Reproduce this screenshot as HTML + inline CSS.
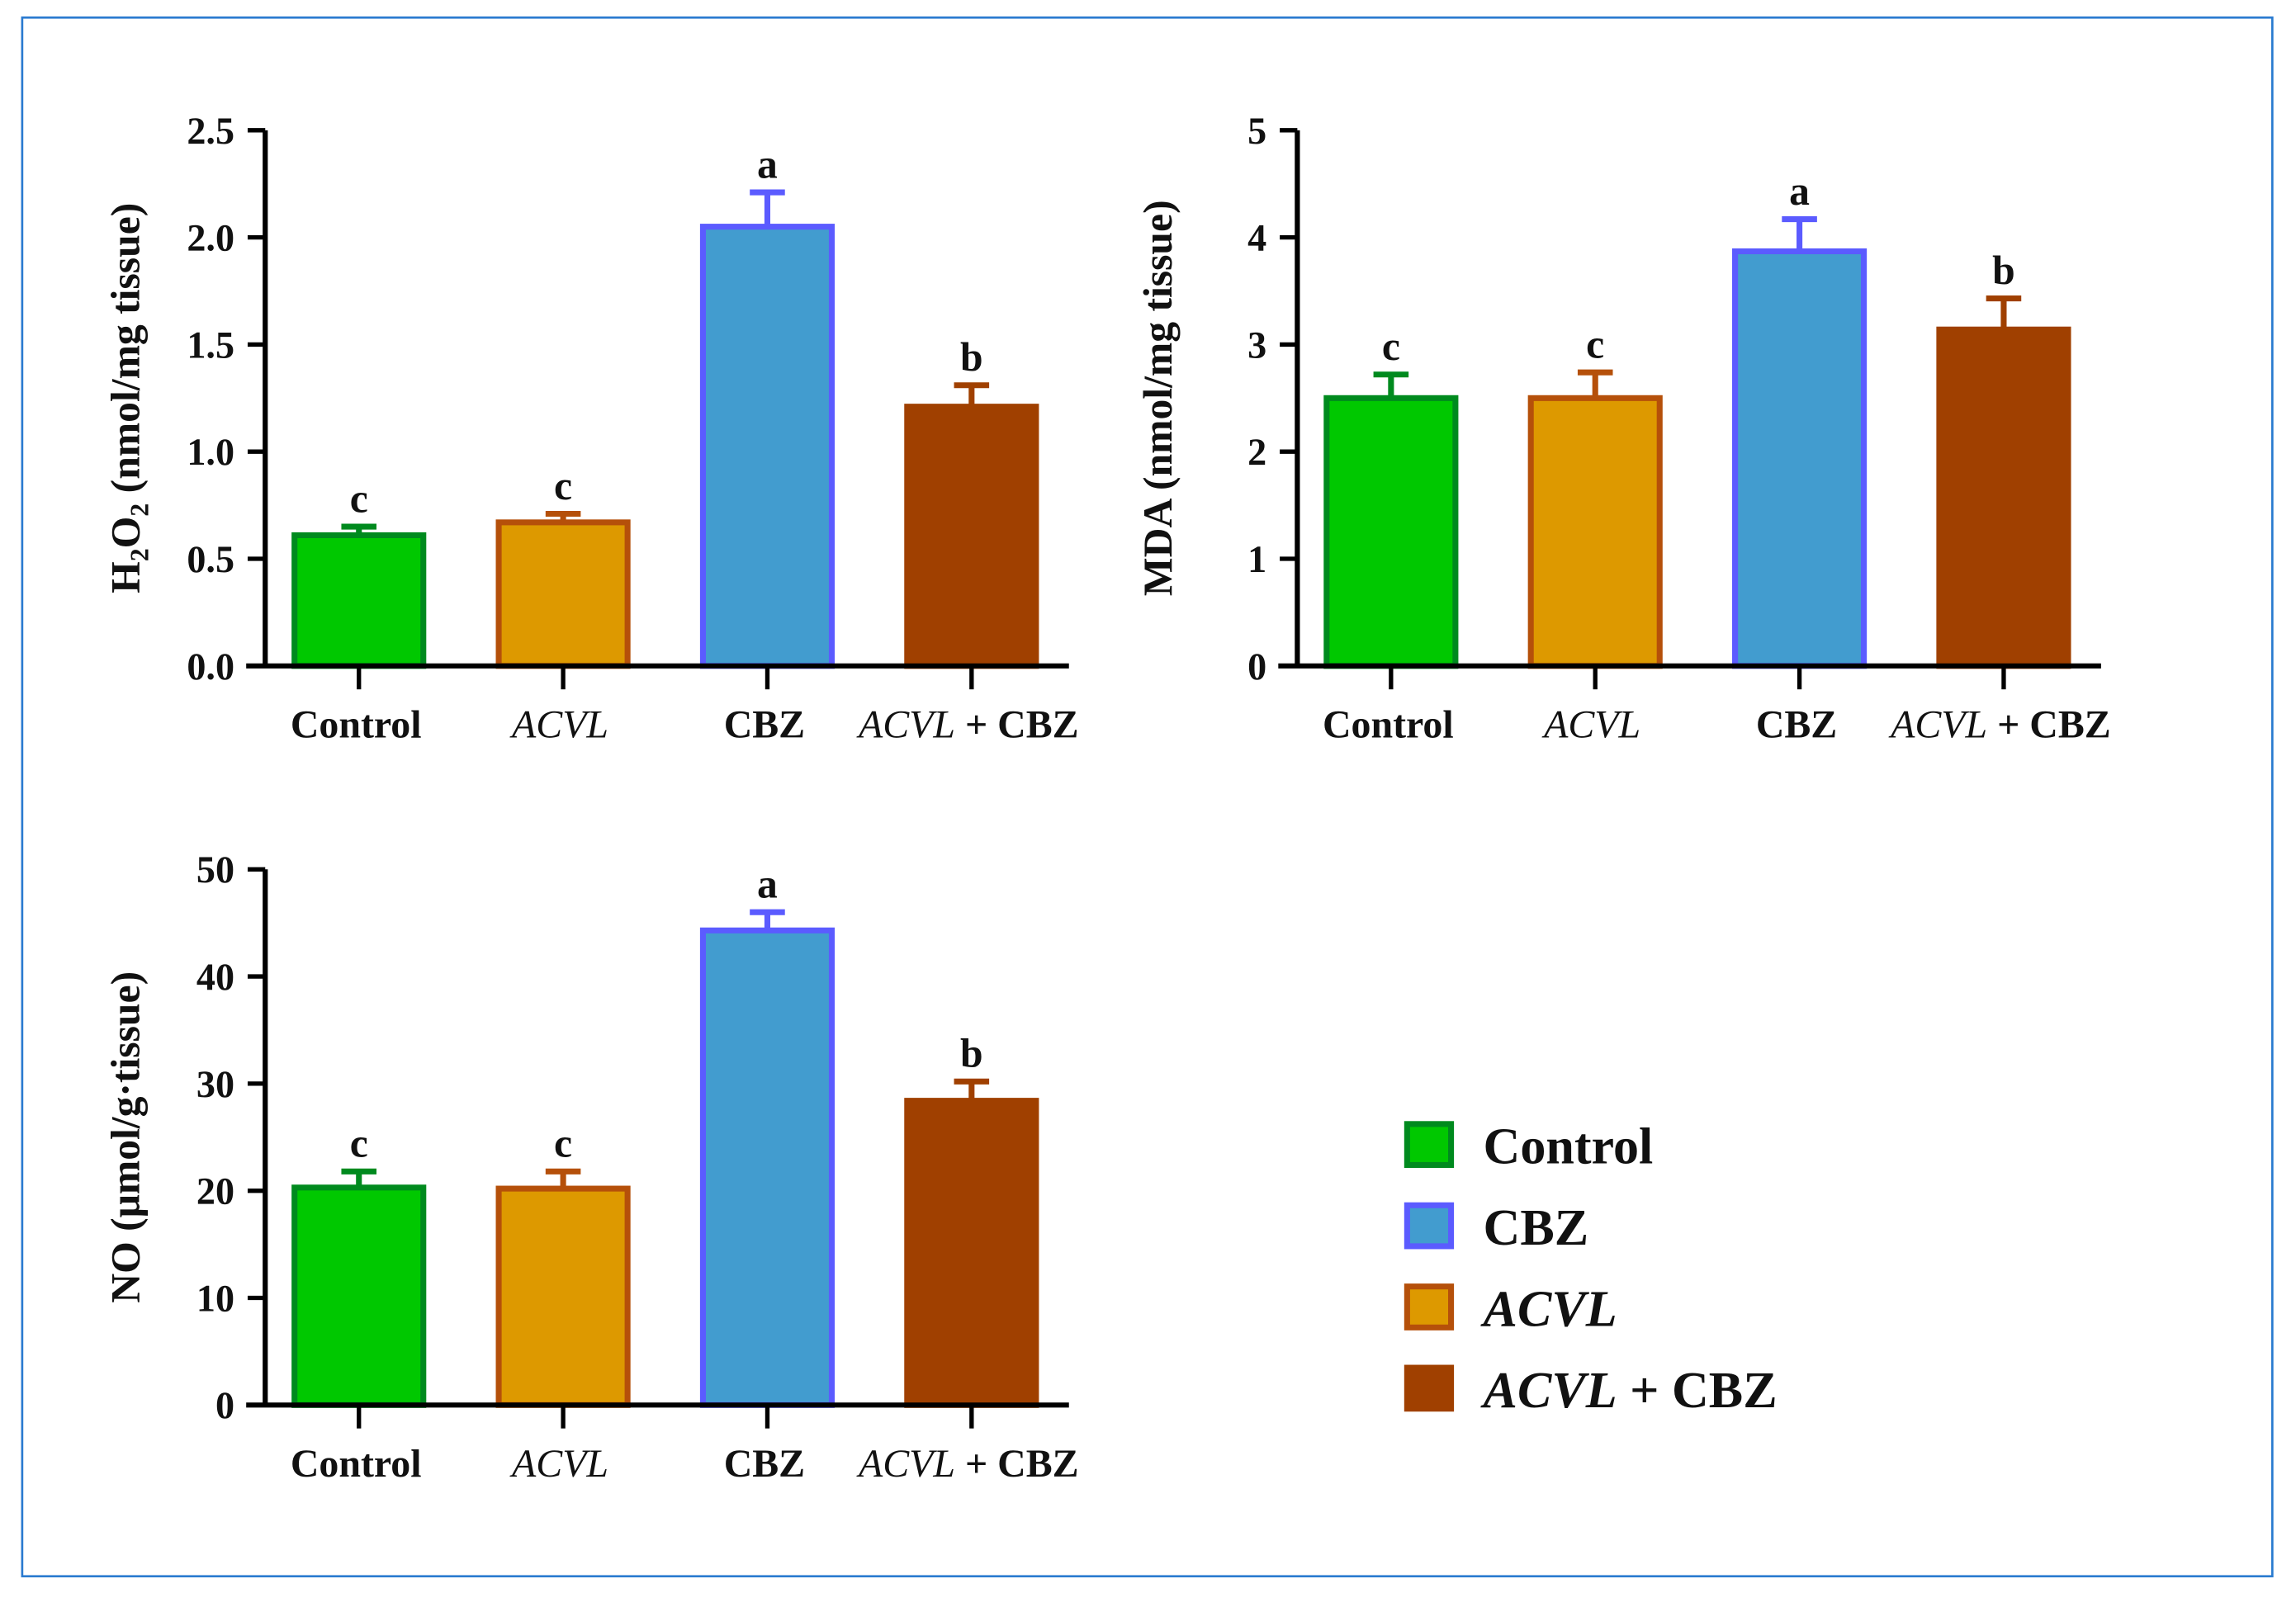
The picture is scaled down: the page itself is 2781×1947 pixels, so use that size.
<!DOCTYPE html>
<html><head><meta charset="utf-8"><style>
html,body{margin:0;padding:0;background:#fff;}
svg{display:block;}
text{font-family:"Liberation Serif",serif;font-weight:bold;fill:#111;}
</style></head><body>
<svg id="fig" width="2781" height="1947" viewBox="0 0 1568 1098" xmlns="http://www.w3.org/2000/svg">
<rect x="15" y="12" width="1537" height="1065" fill="#fff" stroke="#2a7bd0" stroke-width="1.5"/>
<g id="charts"></g>
<g id="legend"></g>
</svg>
<script>
const categories = ["Control","ACVL","CBZ","ACVL + CBZ"];
const h2o2Values = [0.61,0.67,2.05,1.21];
const h2o2Errors = [0.04,0.04,0.16,0.10];
const h2o2Letters = ["c","c","a","b"];
const h2o2Ticks = ["0.0","0.5","1.0","1.5","2.0","2.5"];
const mdaValues = [2.50,2.50,3.87,3.14];
const mdaErrors = [0.22,0.24,0.30,0.29];
const mdaLetters = ["c","c","a","b"];
const mdaTicks = ["0","1","2","3","4","5"];
const noValues = [20.3,20.2,44.3,28.4];
const noErrors = [1.5,1.6,1.7,1.8];
const noLetters = ["c","c","a","b"];
const noTicks = ["0","10","20","30","40","50"];
const legendOrder = [0,2,1,3];

const fills=["#00c800","#dd9900","#429ccf","#a04000"];
const strokes=["#008a1e","#b5500a","#5b5bff","#a04000"];
const NS="http://www.w3.org/2000/svg";
function mk(tag,attrs,parent){const e=document.createElementNS(NS,tag);for(const k in attrs)e.setAttribute(k,attrs[k]);parent.appendChild(e);return e;}

function chart(name,ox,oy,values,errors,letters,ticks,ylabelHTML){
  const g=mk('g',{},document.getElementById('charts'));
  
  
  const top=oy-366, max=parseFloat(ticks[ticks.length-1]);
  const y=v=>oy-v/max*366;
  const x=i=>ox+64+i*139.5;
  ticks.forEach((t,i)=>{
    const v=parseFloat(t), yy=y(v);
    const tk=mk('line',{x1:ox-12,x2:ox,y1:yy,y2:yy,stroke:'#000','stroke-width':3},g);
    
    
    const tl=mk('text',{x:ox-21,y:yy+9,'text-anchor':'end','font-size':26},g);
    tl.textContent=t;
    
    
  });
  values.forEach((v,i)=>{
    const cx=x(i), yt=y(v), ye=y(v+errors[i]);
    const eb=mk('path',{d:`M${cx} ${yt} V${ye} M${cx-12} ${ye} H${cx+12}`,stroke:strokes[i],'stroke-width':4,fill:'none'},g);
    
    
    const b=mk('rect',{x:cx-44,y:yt,width:88,height:oy-yt,fill:fills[i],stroke:strokes[i],'stroke-width':4},g);
    
    
    const l=mk('text',{x:cx,y:ye-10,'text-anchor':'middle','font-size':28},g);
    l.textContent=letters[i];
    
    
    const tk=mk('line',{x1:cx,x2:cx,y1:oy,y2:oy+16,stroke:'#000','stroke-width':3},g);
    
    
    const xl=mk('text',{x:cx-2,y:oy+49,'text-anchor':'middle','font-size':27},g);
    
    
    if(i===1){xl.innerHTML='<tspan font-style="italic" font-weight="normal">ACVL</tspan>';}
    else if(i===3){xl.innerHTML='<tspan font-style="italic" font-weight="normal">ACVL</tspan> + CBZ';}
    else xl.textContent=categories[i];
  });
  const ax=mk('path',{d:`M${ox} ${top} V${oy} M${ox-13} ${oy} H${ox+549}`,stroke:'#000','stroke-width':3.5,fill:'none'},g);
  
  
  const yl=mk('text',{transform:`translate(${ox-86},${oy-183}) rotate(-90)`,'text-anchor':'middle','font-size':28},g);
  yl.innerHTML=ylabelHTML;
  
  
}
chart('h2o2-chart',181,455,h2o2Values,h2o2Errors,h2o2Letters,h2o2Ticks,'H<tspan font-size="18" dy="6">2</tspan><tspan dy="-6">O</tspan><tspan font-size="18" dy="6">2</tspan><tspan dy="-6"> (nmol/mg tissue)</tspan>');
chart('mda-chart',886,455,mdaValues,mdaErrors,mdaLetters,mdaTicks,'MDA (nmol/mg tissue)');
chart('no-chart',181,960,noValues,noErrors,noLetters,noTicks,'NO (μmol/g·tissue)');

const lg=document.getElementById('legend');
legendOrder.forEach((ci,k)=>{
  const yy=768+k*55.5;
  const s=mk('rect',{x:961,y:yy,width:30,height:28,fill:fills[ci],stroke:strokes[ci],'stroke-width':4},lg);
  
  
  const t=mk('text',{x:1013,y:yy+27,'font-size':35},lg);
  
  
  if(ci===1)t.innerHTML='<tspan font-style="italic">ACVL</tspan>';
  else if(ci===3)t.innerHTML='<tspan font-style="italic">ACVL</tspan> + CBZ';
  else t.textContent=categories[ci];
});
</script>
</body></html>
